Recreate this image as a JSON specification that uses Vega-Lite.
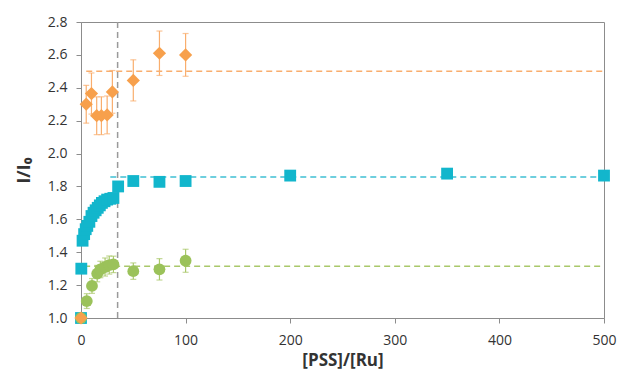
{
  "$schema": "https://vega.github.io/schema/vega-lite/v6.json",
  "width": 523,
  "height": 296,
  "autosize": {"type": "none"},
  "padding": {"left": 81, "top": 22, "right": 13, "bottom": 64},
  "background": "white",
  "config": {
    "view": {"stroke": "#8c8c8c", "strokeWidth": 1},
    "font": "Open Sans",
    "axis": {
      "grid": false,
      "domainColor": "#8c8c8c",
      "tickColor": "#8c8c8c",
      "tickSize": 5,
      "labelColor": "#333333",
      "labelFontSize": 14,
      "labelFont": "Open Sans",
      "labelOverlap": false,
      "labelFlush": false,
      "titleFont": "Open Sans",
      "titleFontWeight": "bold",
      "titleColor": "#333333"
    },
    "axisX": {"tickCount": 5, "labelPadding": 10, "titlePadding": 5, "titleFontSize": 17, "labelOverlap": false},
    "axisY": {"tickCount": 9, "format": ".1f", "labelPadding": 9, "titlePadding": 14, "titleFontSize": 18, "labelOverlap": false, "labelBound": false}
  },
  "datasets": {
    "pts": [
      {"series": "orange", "x": 0, "y": 1.0, "e": 0},
      {"series": "orange", "x": 5, "y": 2.30, "e": 0.115},
      {"series": "orange", "x": 10, "y": 2.365, "e": 0.125},
      {"series": "orange", "x": 15, "y": 2.23, "e": 0.115},
      {"series": "orange", "x": 19.5, "y": 2.23, "e": 0.115},
      {"series": "orange", "x": 25, "y": 2.235, "e": 0.115},
      {"series": "orange", "x": 30, "y": 2.375, "e": 0.13},
      {"series": "orange", "x": 50, "y": 2.445, "e": 0.125},
      {"series": "orange", "x": 75, "y": 2.61, "e": 0.135},
      {"series": "orange", "x": 100, "y": 2.60, "e": 0.13},
      {"series": "cyan", "x": 0, "y": 1.0, "e": 0},
      {"series": "cyan", "x": 0.3, "y": 1.30, "e": 0},
      {"series": "cyan", "x": 1.5, "y": 1.47, "e": 0},
      {"series": "cyan", "x": 3, "y": 1.51, "e": 0},
      {"series": "cyan", "x": 4.5, "y": 1.54, "e": 0},
      {"series": "cyan", "x": 6, "y": 1.56, "e": 0},
      {"series": "cyan", "x": 8, "y": 1.585, "e": 0},
      {"series": "cyan", "x": 10, "y": 1.62, "e": 0},
      {"series": "cyan", "x": 12, "y": 1.64, "e": 0},
      {"series": "cyan", "x": 14, "y": 1.655, "e": 0},
      {"series": "cyan", "x": 16, "y": 1.67, "e": 0},
      {"series": "cyan", "x": 18, "y": 1.685, "e": 0},
      {"series": "cyan", "x": 20, "y": 1.70, "e": 0},
      {"series": "cyan", "x": 22.5, "y": 1.71, "e": 0},
      {"series": "cyan", "x": 25, "y": 1.72, "e": 0},
      {"series": "cyan", "x": 28, "y": 1.725, "e": 0},
      {"series": "cyan", "x": 31, "y": 1.73, "e": 0},
      {"series": "cyan", "x": 35.5, "y": 1.80, "e": 0},
      {"series": "cyan", "x": 50, "y": 1.833, "e": 0},
      {"series": "cyan", "x": 75, "y": 1.828, "e": 0},
      {"series": "cyan", "x": 100, "y": 1.833, "e": 0},
      {"series": "cyan", "x": 200, "y": 1.866, "e": 0},
      {"series": "cyan", "x": 350, "y": 1.878, "e": 0},
      {"series": "cyan", "x": 500, "y": 1.866, "e": 0},
      {"series": "green", "x": 0, "y": 1.0, "e": 0},
      {"series": "green", "x": 5.5, "y": 1.103, "e": 0.045},
      {"series": "green", "x": 10.5, "y": 1.195, "e": 0.045},
      {"series": "green", "x": 15.5, "y": 1.27, "e": 0.05},
      {"series": "green", "x": 18.5, "y": 1.295, "e": 0.05},
      {"series": "green", "x": 23, "y": 1.31, "e": 0.055},
      {"series": "green", "x": 27, "y": 1.322, "e": 0.055},
      {"series": "green", "x": 31, "y": 1.326, "e": 0.05},
      {"series": "green", "x": 50, "y": 1.285, "e": 0.05},
      {"series": "green", "x": 75, "y": 1.296, "e": 0.065},
      {"series": "green", "x": 100, "y": 1.348, "e": 0.07}
    ],
    "hl": [
      {"series": "orange", "x": 5, "x2": 500, "y": 2.5},
      {"series": "cyan", "x": 28, "x2": 500, "y": 1.858},
      {"series": "green", "x": 3, "x2": 500, "y": 1.315}
    ],
    "vl": [
      {"x": 35, "y": 1.0, "y2": 2.8}
    ]
  },
  "layer": [
    {
      "data": {"name": "vl"},
      "mark": {"type": "rule", "color": "#9a9a9a", "strokeDash": [6, 4], "strokeWidth": 1.5},
      "encoding": {
        "x": {"field": "x", "type": "quantitative", "scale": {"domain": [0, 500], "nice": false},
          "axis": {"title": "[PSS]/[Ru]", "labelOverlap": false}},
        "y": {"field": "y", "type": "quantitative", "scale": {"domain": [1.0, 2.8], "nice": false, "zero": false},
          "axis": {"title": "I/I₀", "labelOverlap": false, "tickCount": 9}},
        "y2": {"field": "y2"}
      }
    },
    {
      "data": {"name": "hl"},
      "mark": {"type": "rule", "strokeDash": [6, 4], "strokeWidth": 1.5},
      "encoding": {
        "x": {"field": "x", "type": "quantitative"},
        "x2": {"field": "x2"},
        "y": {"field": "y", "type": "quantitative"},
        "color": {"field": "series", "type": "nominal", "legend": null,
          "scale": {"domain": ["orange", "cyan", "green"], "range": ["#F9AE6E", "#3FC0D4", "#A9C86A"]}}
      }
    },
    {
      "data": {"name": "pts"},
      "transform": [
        {"filter": "datum.e > 0"},
        {"calculate": "datum.y - datum.e", "as": "lo"},
        {"calculate": "datum.y + datum.e", "as": "hi"}
      ],
      "layer": [
        {
          "mark": {"type": "rule", "strokeWidth": 1.2},
          "encoding": {
            "x": {"field": "x", "type": "quantitative"},
            "y": {"field": "lo", "type": "quantitative"},
            "y2": {"field": "hi"},
            "color": {"field": "series", "type": "nominal", "legend": null,
              "scale": {"domain": ["orange", "cyan", "green"], "range": ["#F9C493", "#8fd8e4", "#C3D89B"]}}
          }
        },
        {
          "mark": {"type": "tick", "orient": "horizontal", "size": 6, "thickness": 1.2},
          "encoding": {
            "x": {"field": "x", "type": "quantitative"},
            "y": {"field": "lo", "type": "quantitative"},
            "color": {"field": "series", "type": "nominal", "legend": null}
          }
        },
        {
          "mark": {"type": "tick", "orient": "horizontal", "size": 6, "thickness": 1.2},
          "encoding": {
            "x": {"field": "x", "type": "quantitative"},
            "y": {"field": "hi", "type": "quantitative"},
            "color": {"field": "series", "type": "nominal", "legend": null}
          }
        }
      ]
    },
    {
      "data": {"name": "pts"},
      "transform": [{"filter": "datum.series == 'cyan'"}],
      "mark": {"type": "point", "shape": "square", "filled": true, "size": 140, "color": "#12B6CC", "opacity": 1},
      "encoding": {
        "x": {"field": "x", "type": "quantitative"},
        "y": {"field": "y", "type": "quantitative"}
      }
    },
    {
      "data": {"name": "pts"},
      "transform": [{"filter": "datum.series == 'green'"}],
      "mark": {"type": "point", "shape": "circle", "filled": true, "size": 140, "color": "#9BC25A", "opacity": 1},
      "encoding": {
        "x": {"field": "x", "type": "quantitative"},
        "y": {"field": "y", "type": "quantitative"}
      }
    },
    {
      "data": {"name": "pts"},
      "transform": [{"filter": "datum.series == 'orange'"}],
      "mark": {"type": "point", "shape": "diamond", "filled": true, "size": 175, "color": "#F7A04C", "opacity": 1},
      "encoding": {
        "x": {"field": "x", "type": "quantitative"},
        "y": {"field": "y", "type": "quantitative"}
      }
    }
  ]
}
